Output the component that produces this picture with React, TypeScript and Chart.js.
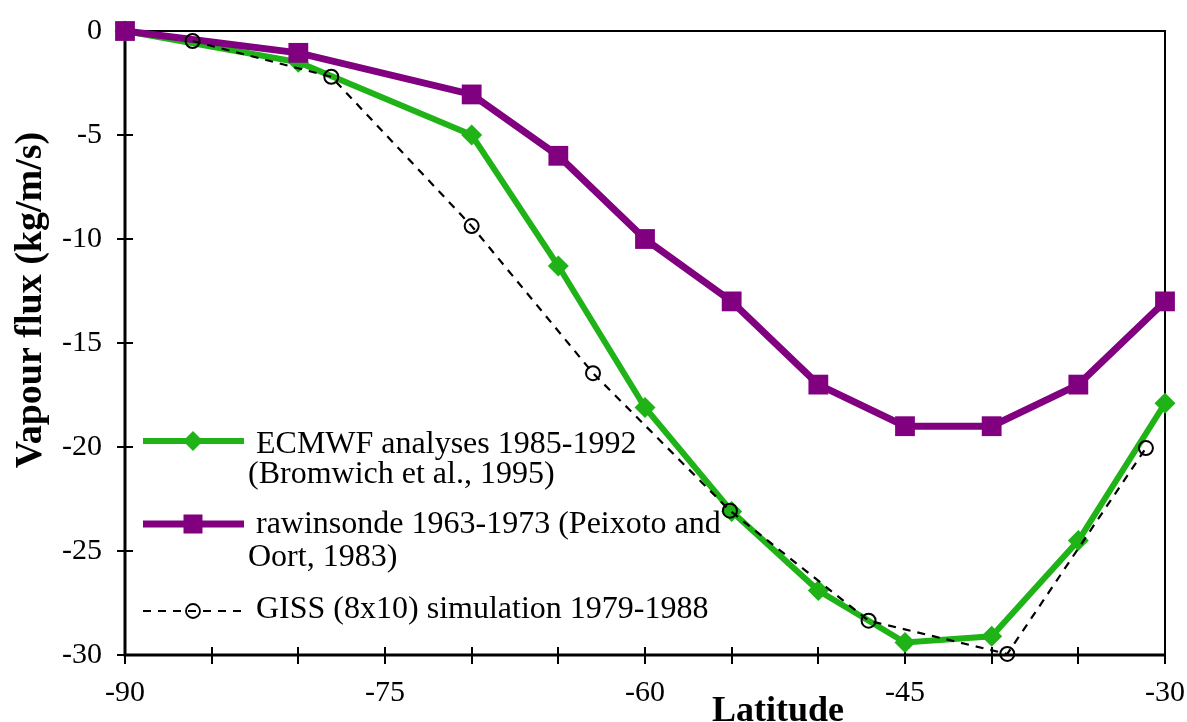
import React, { useEffect, useRef } from "react";
import { Chart, registerables } from "chart.js";

Chart.register(...registerables);

// ---- data ----
const latitudes = [-90, -80, -70, -65, -60, -55, -50, -45, -40, -35, -30];
const ecmwfValues = [0, -1.5, -5.0, -11.3, -18.1, -23.1, -26.9, -29.4, -29.1, -24.5, -17.9];
const rawinsondeValues = [0, -1.05, -3.05, -6.0, -10.0, -13.0, -17.0, -19.0, -19.0, -17.0, -13.0];
const gissLatitudes = [-86.1, -78.1, -70.0, -63.0, -55.1, -47.1, -39.1, -31.1];
const gissValues = [-0.48, -2.2, -9.38, -16.45, -23.06, -28.35, -29.95, -20.05];

const legendLines = [
  ["ECMWF analyses 1985-1992", "(Bromwich et al., 1995)"],
  ["rawinsonde 1963-1973 (Peixoto and", "Oort, 1983)"],
  ["GISS (8x10) simulation 1979-1988"],
];
const xTitle = "Latitude";
const yTitle = "Vapour flux (kg/m/s)";

const GREEN = "#1fb318";
const PURPLE = "#800080";
const FONT = "'Liberation Serif', 'Times New Roman', Times, serif";

const toXY = (xs: number[], ys: number[]) => xs.map((x, i) => ({ x, y: ys[i] }));

const zeroPad = (s: any) => {
  s.paddingTop = 0;
  s.paddingBottom = 0;
  s.paddingLeft = 0;
  s.paddingRight = 0;
};

const framePlugin = {
  id: "frameTicks",
  beforeDatasetsDraw(chart: any) {
    const { ctx, chartArea: a, scales } = chart;
    const x = scales.x;
    const y = scales.y;
    ctx.save();
    ctx.strokeStyle = "#000";
    ctx.lineCap = "butt";
    ctx.lineWidth = 2;
    ctx.beginPath();
    ctx.moveTo(a.left, a.top);
    ctx.lineTo(a.right, a.top);
    ctx.lineTo(a.right, a.bottom);
    ctx.stroke();
    ctx.lineWidth = 3;
    ctx.beginPath();
    ctx.moveTo(a.left, a.top);
    ctx.lineTo(a.left, a.bottom);
    ctx.lineTo(a.right, a.bottom);
    ctx.stroke();
    ctx.lineWidth = 2;
    ctx.beginPath();
    x.ticks.forEach((t: any) => {
      const px = Math.round(x.getPixelForValue(t.value));
      ctx.moveTo(px, a.bottom - 8);
      ctx.lineTo(px, a.bottom + 9);
    });
    y.ticks.forEach((t: any) => {
      if (t.value === 0) return;
      const py = Math.round(y.getPixelForValue(t.value));
      ctx.moveTo(a.left - 8, py);
      ctx.lineTo(a.left + 8, py);
    });
    ctx.stroke();
    ctx.restore();
  },
  afterDraw(chart: any) {
    const { ctx } = chart;
    ctx.save();
    ctx.fillStyle = "#000";
    // axis titles
    ctx.textAlign = "center";
    ctx.textBaseline = "alphabetic";
    ctx.font = `bold 36px ${FONT}`;
    ctx.fillText(xTitle, 778, 721);
    ctx.save();
    ctx.font = `bold 38px ${FONT}`;
    ctx.translate(41, 300);
    ctx.rotate(-Math.PI / 2);
    ctx.fillText(yTitle, 0, 0);
    ctx.restore();

    // legend
    const x0 = 143, x1 = 244, cx = 193;
    // ECMWF
    ctx.strokeStyle = GREEN;
    ctx.lineWidth = 6;
    ctx.beginPath();
    ctx.moveTo(x0, 441);
    ctx.lineTo(x1, 441);
    ctx.stroke();
    ctx.fillStyle = GREEN;
    ctx.beginPath();
    ctx.moveTo(cx - 10, 441);
    ctx.lineTo(cx, 431);
    ctx.lineTo(cx + 10, 441);
    ctx.lineTo(cx, 451);
    ctx.closePath();
    ctx.fill();
    // rawinsonde
    ctx.strokeStyle = PURPLE;
    ctx.lineWidth = 7;
    ctx.beginPath();
    ctx.moveTo(x0, 524);
    ctx.lineTo(x1, 524);
    ctx.stroke();
    ctx.fillStyle = PURPLE;
    ctx.fillRect(cx - 9.5, 524 - 9.5, 19, 19);
    // GISS
    ctx.strokeStyle = "#000";
    ctx.lineWidth = 2.2;
    ctx.setLineDash([8, 7]);
    ctx.beginPath();
    ctx.moveTo(x0, 611);
    ctx.lineTo(x1, 611);
    ctx.stroke();
    ctx.setLineDash([]);
    ctx.lineWidth = 1.8;
    ctx.beginPath();
    ctx.arc(cx, 611, 7, 0, Math.PI * 2);
    ctx.stroke();

    ctx.fillStyle = "#000";
    ctx.font = `32px ${FONT}`;
    ctx.textAlign = "left";
    ctx.textBaseline = "alphabetic";
    ctx.fillText(legendLines[0][0], 256, 453);
    ctx.fillText(legendLines[0][1], 248, 483);
    ctx.fillText(legendLines[1][0], 256, 533);
    ctx.fillText(legendLines[1][1], 248, 566);
    ctx.fillText(legendLines[2][0], 256, 618);
    ctx.restore();
  },
};

export default function App() {
  const ref = useRef<HTMLCanvasElement | null>(null);
  useEffect(() => {
    if (!ref.current) return;
    const chart = new Chart(ref.current, {
      type: "line",
      data: {
        datasets: [
          {
            label: legendLines[0].join(" "),
            data: toXY(latitudes, ecmwfValues),
            borderColor: GREEN,
            backgroundColor: GREEN,
            borderWidth: 6,
            pointStyle: "rectRot",
            pointRadius: 10.5,
            pointBorderWidth: 0,
            pointBackgroundColor: GREEN,
            tension: 0,
            clip: false,
            order: 3,
          },
          {
            label: legendLines[1].join(" "),
            data: toXY(latitudes, rawinsondeValues),
            borderColor: PURPLE,
            backgroundColor: PURPLE,
            borderWidth: 7,
            pointStyle: "rect",
            pointRadius: 14,
            pointBorderWidth: 0,
            pointBackgroundColor: PURPLE,
            tension: 0,
            clip: false,
            order: 2,
          },
          {
            label: legendLines[2][0],
            data: toXY(gissLatitudes, gissValues),
            borderColor: "#000",
            borderWidth: 2.2,
            borderDash: [8, 7],
            pointStyle: "circle",
            pointRadius: 7,
            pointBorderWidth: 2,
            pointBorderColor: "#000",
            pointBackgroundColor: "rgba(0,0,0,0)",
            tension: 0,
            clip: false,
            order: 1,
          },
        ],
      },
      options: {
        responsive: false,
        animation: false,
        devicePixelRatio: 1,
        layout: { padding: { top: 31, right: 22, left: 0, bottom: 0 } },
        plugins: { legend: { display: false }, tooltip: { enabled: false }, title: { display: false } },
        events: [],
        scales: {
          x: {
            type: "linear",
            min: -90,
            max: -30,
            grid: { display: false, drawTicks: false },
            border: { display: false },
            afterFit: (s: any) => { s.height = 67; zeroPad(s); },
            ticks: {
              stepSize: 5,
              autoSkip: false,
              maxRotation: 0,
              padding: 20,
              color: "#000",
              font: { family: FONT, size: 30 },
              callback: (v: any) => (Number(v) % 15 === 0 ? String(v) : ""),
            },
          },
          y: {
            type: "linear",
            min: -30,
            max: 0,
            grid: { display: false, drawTicks: false },
            border: { display: false },
            afterFit: (s: any) => { s.width = 125; zeroPad(s); },
            ticks: {
              stepSize: 5,
              padding: 23,
              color: "#000",
              font: { family: FONT, size: 30 },
              callback: (v: any) => String(v),
            },
          },
        },
      },
      plugins: [framePlugin],
    });
    return () => chart.destroy();
  }, []);
  return (
    <div style={{ position: "absolute", left: 0, top: 0, width: 1187, height: 722, background: "#fff" }}>
      <canvas ref={ref} width={1187} height={722} style={{ display: "block" }} />
    </div>
  );
}
